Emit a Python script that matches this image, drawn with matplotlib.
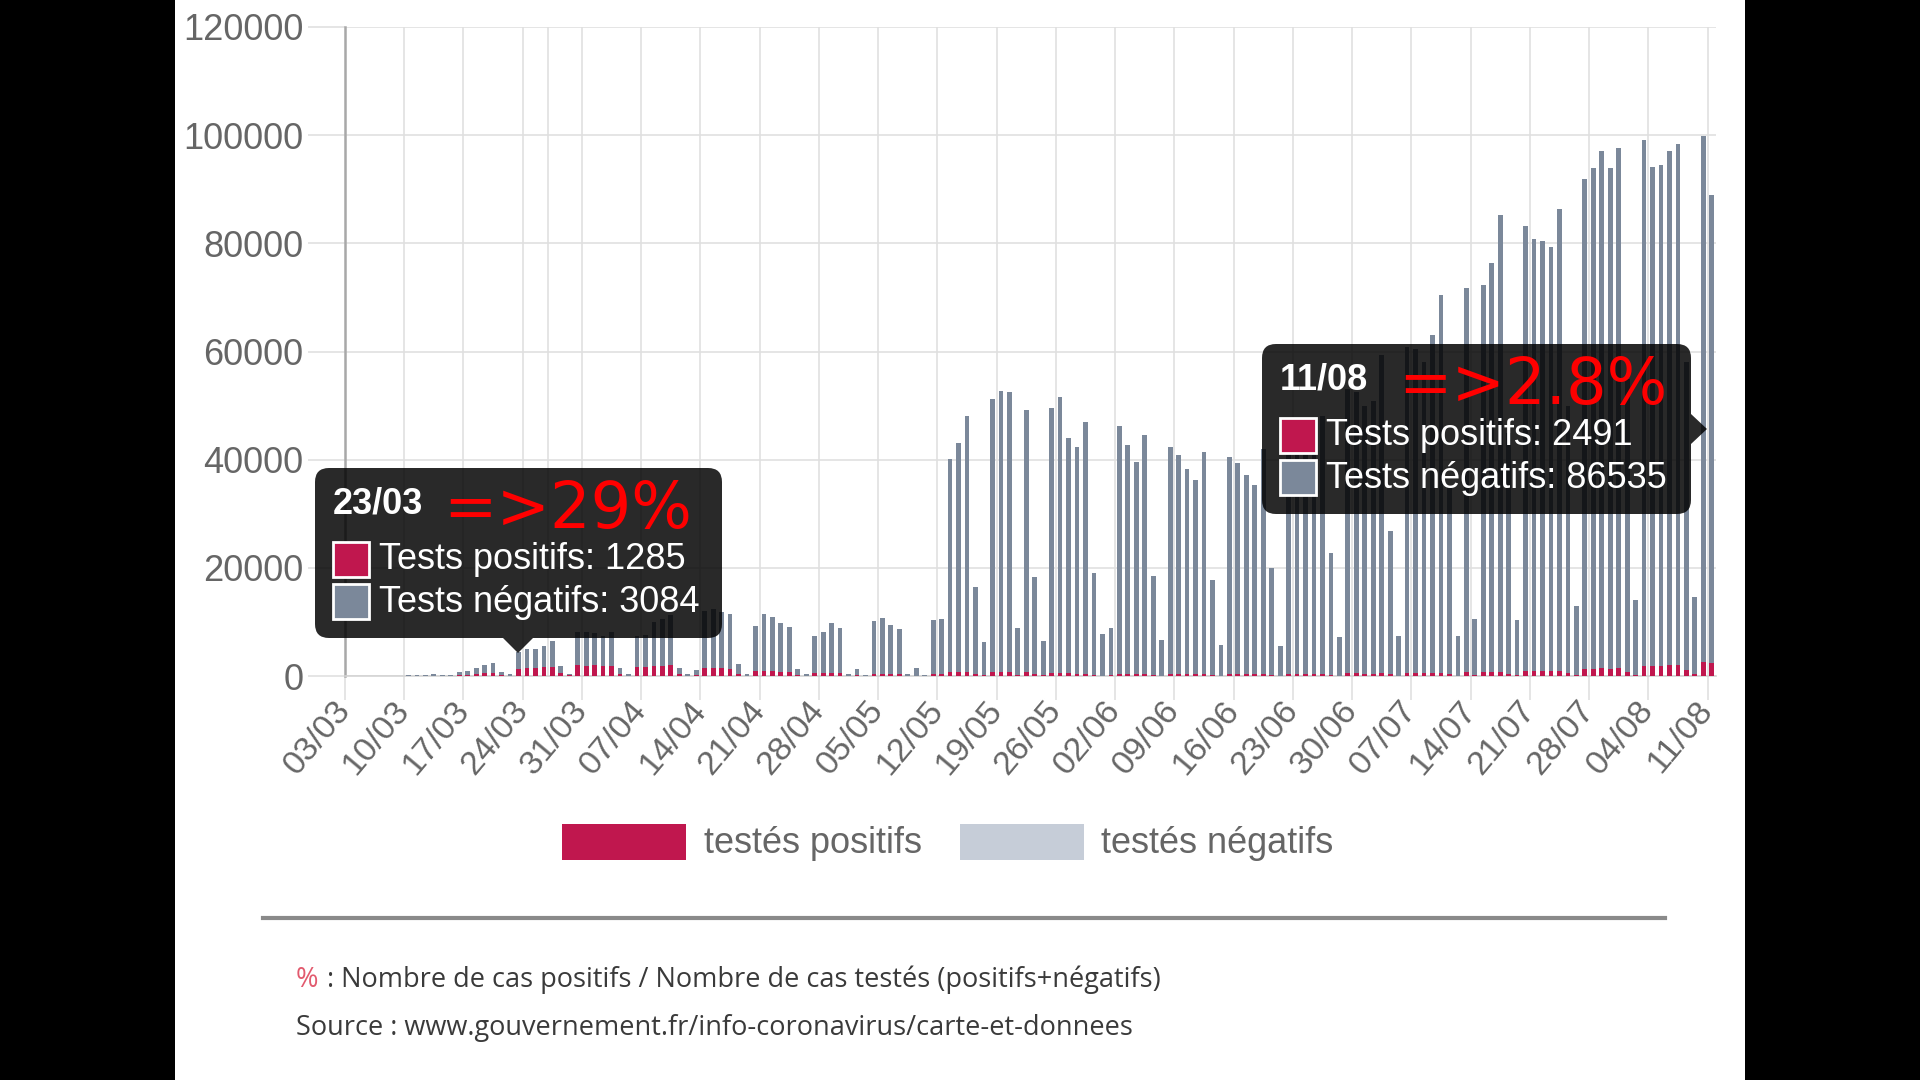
import numpy as np
import pandas as pd
import matplotlib
matplotlib.use('Agg')
import matplotlib.pyplot as plt
from matplotlib.patches import Rectangle, FancyBboxPatch, Polygon

# daily tests, 03/03 -> 11/08 (one row = one week, starting on a Tuesday)
dates = pd.date_range('2020-03-03', '2020-08-11', freq='D')

positifs = [
    5, 8, 6, 10, 4, 2, 12,
    15, 20, 25, 60, 30, 40, 150,
    200, 350, 550, 600, 200, 90, 1285,
    1450, 1500, 1600, 1700, 500, 100, 2000,
    1900, 1950, 1800, 1850, 400, 80, 1600,
    1650, 1800, 1900, 2000, 350, 60, 200,
    1500, 1500, 1400, 1300, 300, 60, 900,
    1000, 900, 800, 700, 150, 40, 550,
    550, 600, 500, 30, 100, 10, 450,
    450, 400, 350, 30, 80, 15, 400,
    400, 800, 800, 800, 300, 150, 800,
    800, 800, 250, 700, 300, 120, 500,
    500, 480, 450, 450, 200, 80, 120,
    450, 400, 380, 420, 180, 60, 400,
    400, 380, 360, 400, 170, 50, 380,
    370, 350, 340, 400, 200, 60, 420,
    410, 400, 380, 420, 250, 70, 480,
    470, 460, 460, 520, 280, 80, 560,
    550, 530, 580, 620, 350, 90, 680,
    150, 700, 750, 800, 450, 120, 900,
    880, 870, 860, 950, 550, 150, 1300,
    1350, 1400, 1380, 1450, 800, 220, 1900,
    1850, 1900, 2000, 2050, 1100, 350, 2600,
    2491,
]

negatifs = [
    40, 55, 45, 70, 30, 15, 80,
    90, 110, 120, 240, 120, 160, 590,
    730, 1200, 1450, 1800, 540, 210, 3084,
    3500, 3580, 3970, 4680, 1360, 200, 6050,
    6150, 6050, 5630, 6200, 1150, 220, 5830,
    5950, 8100, 8600, 9300, 1200, 240, 900,
    10570, 10900, 10400, 10150, 2000, 370, 8260,
    10500, 10100, 9040, 8340, 1210, 260, 6820,
    7500, 9240, 8300, 270, 1260, 90, 9640,
    10300, 8950, 8250, 340, 1350, 185, 9940,
    10190, 39260, 42370, 47360, 16080, 6080, 50350,
    51900, 51720, 8650, 48500, 17950, 6300, 49090,
    51100, 43520, 41800, 46550, 18870, 7680, 8830,
    45750, 42330, 39280, 44060, 18370, 6600, 41880,
    40490, 37860, 35910, 41100, 17600, 5700, 40050,
    39090, 36820, 34960, 41600, 19840, 5470, 44580,
    43590, 42600, 41620, 47580, 22450, 7130, 52520,
    52130, 49540, 50340, 58880, 26520, 7360, 60240,
    59950, 57470, 62560, 69880, 34650, 7350, 71060,
    10450, 71520, 75560, 84390, 44550, 10300, 82380,
    80010, 79540, 78530, 85400, 49450, 12870, 90510,
    92510, 95730, 92480, 96230, 54200, 13920, 97280,
    92210, 92500, 95000, 96310, 56900, 14220, 97260,
    86535,
]

tick_labels = ['03/03', '10/03', '17/03', '24/03', '31/03', '07/04', '14/04',
               '21/04', '28/04', '05/05', '12/05', '19/05', '26/05', '02/06',
               '09/06', '16/06', '23/06', '30/06', '07/07', '14/07', '21/07',
               '28/07', '04/08', '11/08']
y_ticks = [0, 20000, 40000, 60000, 80000, 100000, 120000]
y_tick_labels = ['0', '20000', '40000', '60000', '80000', '100000', '120000']

POS = '#c0174e'
NEG = '#7b889a'
NEG_LEG = '#c6cdd8'
GRID = '#e0e0e0'
TXT = '#666666'
SANS = 'Liberation Sans'

W, H = 1920, 1080
days = np.arange(len(dates))
tick_days = days[::7]

fig = plt.figure(figsize=(19.2, 10.8), dpi=100, facecolor='black')
fig.add_artist(Rectangle((175 / W, 0), 1570 / W, 1, transform=fig.transFigure,
                         facecolor='white', edgecolor='none', zorder=-1))

ax = fig.add_axes([345 / W, 1 - 676 / H, 1371 / W, 649 / H])
ax.bar(days, positifs, width=0.56, color=POS, zorder=3)
ax.bar(days, negatifs, width=0.56, bottom=positifs, color=NEG, zorder=3)
ax.set_xlim(-0.5, 161.5)
ax.set_ylim(0, 120000)

ax.set_yticks(y_ticks)
ax.set_yticklabels(y_tick_labels, fontsize=26, color=TXT, family=SANS)
ax.set_xticks(tick_days - 0.5)
ax.set_xticklabels(tick_labels, fontsize=24.5, color=TXT, family=SANS,
                   rotation=50, ha='right', va='center', rotation_mode='anchor')
ax.tick_params(axis='y', length=27, width=1.2, color=GRID, pad=3)
ax.tick_params(axis='x', length=17, width=1.2, color=GRID, pad=4)
ax.grid(color=GRID, lw=1.2, zorder=0)
ax.axvline(23.5, color=GRID, lw=1.2, zorder=0)
ax.set_axisbelow(True)
for s in ['top', 'right']:
    ax.spines[s].set_visible(False)
ax.spines['left'].set_color('#a8a8a8')
ax.spines['left'].set_linewidth(1.8)
ax.spines['bottom'].set_color('#d4d4d4')
ax.spines['bottom'].set_linewidth(1.2)

# overlay in pixel coordinates (origin top-left)
deco = fig.add_axes([0, 0, 1, 1], zorder=5)
deco.set_xlim(0, W)
deco.set_ylim(H, 0)
deco.axis('off')


def tooltip(x0, y0, date, pct, pos, neg, arrow, pct_x):
    deco.add_patch(FancyBboxPatch((x0, y0), arrow[0], 170,
                                  boxstyle='round,pad=0,rounding_size=14',
                                  facecolor=(0, 0, 0, 0.84), edgecolor='none'))
    deco.add_patch(Polygon(arrow[1], closed=True, facecolor=(0, 0, 0, 0.84),
                           edgecolor='none'))
    tx = x0 + 18
    deco.text(tx, y0 + 45, date, fontsize=26, weight='bold', color='white',
              family=SANS, va='baseline')
    deco.text(pct_x, y0 + 60, pct, fontsize=46, color='#ff0000',
              family='DejaVu Sans', va='baseline')
    deco.add_patch(Rectangle((tx, y0 + 74), 36, 35, facecolor=POS,
                             edgecolor='white', lw=2))
    deco.add_patch(Rectangle((tx, y0 + 116), 36, 35, facecolor=NEG,
                             edgecolor='white', lw=2))
    deco.text(tx + 46, y0 + 101, f'Tests positifs: {pos}', fontsize=26,
              color='white', family=SANS, va='baseline')
    deco.text(tx + 46, y0 + 144, f'Tests négatifs: {neg}', fontsize=26,
              color='white', family=SANS, va='baseline')


i1 = tick_labels.index('24/03') * 7 - 1
tooltip(315, 468, '23/03', '=>29%', positifs[i1], negatifs[i1],
        (407, [(503, 638), (533, 638), (518, 653)]), 443)
tooltip(1262, 344, '11/08', '=>2.8%', positifs[-1], negatifs[-1],
        (429, [(1691, 414), (1691, 444), (1707, 429)]), 1398)

# legend
deco.add_patch(Rectangle((562, 824), 124, 36, facecolor=POS, edgecolor='none'))
deco.add_patch(Rectangle((960, 824), 124, 36, facecolor=NEG_LEG, edgecolor='none'))
deco.text(704, 853, 'testés positifs', fontsize=26, color=TXT, family=SANS,
          va='baseline')
deco.text(1101, 853, 'testés négatifs', fontsize=26, color=TXT, family=SANS,
          va='baseline')

# footer
deco.plot([263, 1665], [918, 918], color='#8a8a8a', lw=3)
deco.text(296, 987, '%', fontsize=19.5, color='#e25a6e', family='Open Sans',
          va='baseline')
deco.text(327, 987, ': Nombre de cas positifs / Nombre de cas testés (positifs+négatifs)',
          fontsize=19.5, color='#3a3a3a', family='Open Sans', va='baseline')
deco.text(296, 1035, 'Source : www.gouvernement.fr/info-coronavirus/carte-et-donnees',
          fontsize=19.5, color='#3a3a3a', family='Open Sans', va='baseline')

fig.savefig('out.png', dpi=100, facecolor='black')
